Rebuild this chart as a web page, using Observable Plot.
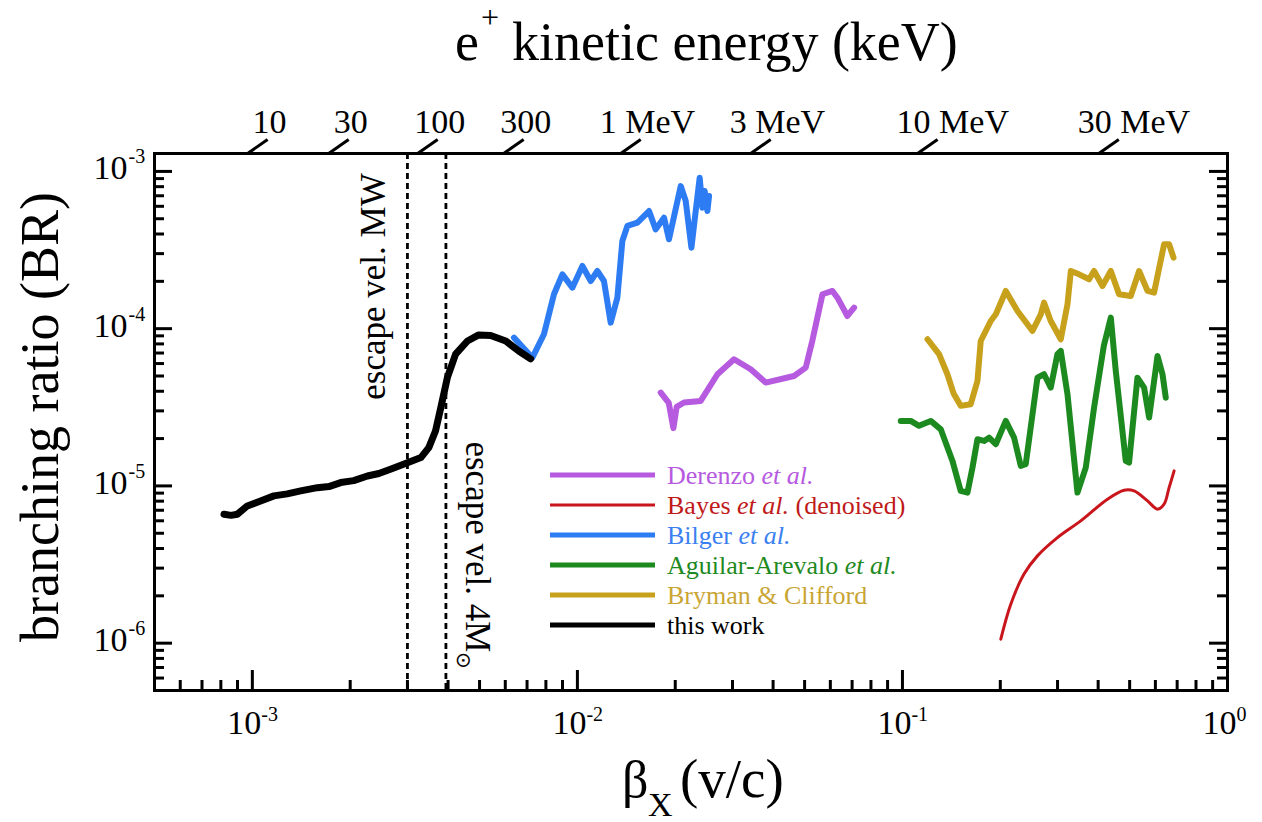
<!DOCTYPE html>
<html>
<head>
<meta charset="utf-8">
<script src="https://cdn.jsdelivr.net/npm/d3@7"></script>
<script src="https://cdn.jsdelivr.net/npm/@observablehq/plot@0.6"></script>
<style>
  html, body { margin: 0; padding: 0; background: #fff; }
  #chart { width: 1262px; height: 822px; overflow: hidden; }
</style>
</head>
<body>
<div id="chart"></div>
<script>
// ---------------- DATA ----------------
const thisWorkBeta = [8.18e-4, 8.6e-4, 8.99e-4, 9.65e-4, 1.06e-3, 1.165e-3, 1.28e-3, 1.408e-3, 1.585e-3, 1.72e-3, 1.87e-3, 2.05e-3, 2.26e-3, 2.45e-3, 2.66e-3, 3.0e-3, 3.30e-3, 3.49e-3, 3.66e-3, 3.80e-3, 3.98e-3, 4.22e-3, 4.59e-3, 4.97e-3, 5.41e-3, 6.02e-3, 6.60e-3, 7.18e-3];
const thisWorkBR   = [6.61e-6, 6.5e-6, 6.61e-6, 7.46e-6, 8.03e-6, 8.64e-6, 8.9e-6, 9.29e-6, 9.75e-6, 9.9e-6, 1.05e-5, 1.08e-5, 1.157e-5, 1.2e-5, 1.277e-5, 1.406e-5, 1.514e-5, 1.751e-5, 2.237e-5, 3.146e-5, 4.88e-5, 6.88e-5, 8.35e-5, 9.12e-5, 9.05e-5, 8.35e-5, 7.21e-5, 6.42e-5];

const bilgerBeta = [6.38e-3, 7.27e-3, 7.89e-3, 8.47e-3, 8.99e-3, 9.65e-3, 1.036e-2, 1.099e-2, 1.152e-2, 1.207e-2, 1.266e-2, 1.327e-2, 1.375e-2, 1.425e-2, 1.53e-2, 1.661e-2, 1.741e-2, 1.847e-2, 1.913e-2, 2.079e-2, 2.154e-2, 2.243e-2, 2.312e-2, 2.378e-2, 2.425e-2, 2.464e-2, 2.512e-2, 2.541e-2];
const bilgerBR   = [8.77e-5, 6.54e-5, 9.21e-5, 1.655e-4, 2.216e-4, 1.823e-4, 2.504e-4, 2.01e-4, 2.327e-4, 2.01e-4, 1.092e-4, 1.574e-4, 3.61e-4, 4.5e-4, 4.72e-4, 5.6e-4, 4.28e-4, 5.08e-4, 3.7e-4, 8.07e-4, 6.48e-4, 3.27e-4, 5.6e-4, 9.12e-4, 5.88e-4, 7.5e-4, 5.6e-4, 6.98e-4];

const derenzoBeta = [1.805e-2, 1.91e-2, 1.974e-2, 2.02e-2, 2.128e-2, 2.395e-2, 2.697e-2, 3.033e-2, 3.413e-2, 3.796e-2, 4.639e-2, 5.04e-2, 5.28e-2, 5.675e-2, 6.09e-2, 6.31e-2, 6.77e-2, 7.10e-2];
const derenzoBR   = [3.92e-5, 3.37e-5, 2.33e-5, 3.18e-5, 3.39e-5, 3.47e-5, 5.13e-5, 6.39e-5, 5.52e-5, 4.54e-5, 5.0e-5, 5.65e-5, 8.35e-5, 1.655e-4, 1.737e-4, 1.574e-4, 1.204e-4, 1.36e-4];

const brymanBeta = [0.1194, 0.1296, 0.1375, 0.1438, 0.1511, 0.1622, 0.1701, 0.1741, 0.1869, 0.1937, 0.2079, 0.2259, 0.2512, 0.2664, 0.2727, 0.2859, 0.3070, 0.3219, 0.3296, 0.3494, 0.3752, 0.3886, 0.4125, 0.4375, 0.4639, 0.5040, 0.5346, 0.5675, 0.5944, 0.6381, 0.6612, 0.6823];
const brymanBR   = [8.56e-5, 6.88e-5, 5.13e-5, 3.85e-5, 3.23e-5, 3.31e-5, 4.65e-5, 8.35e-5, 1.119e-4, 1.234e-4, 1.737e-4, 1.296e-4, 9.67e-5, 1.234e-4, 1.463e-4, 1.119e-4, 8.56e-5, 1.429e-4, 2.327e-4, 2.216e-4, 2.06e-4, 2.327e-4, 1.868e-4, 2.327e-4, 1.655e-4, 1.614e-4, 2.327e-4, 1.737e-4, 1.694e-4, 3.44e-4, 3.44e-4, 2.83e-4];

const aguilarBeta = [0.0988, 0.106, 0.1125, 0.1222, 0.1312, 0.1425, 0.1511, 0.1585, 0.1642, 0.1701, 0.1783, 0.1847, 0.1937, 0.2079, 0.2205, 0.2312, 0.2395, 0.2602, 0.2727, 0.2859, 0.2998, 0.3070, 0.3219, 0.3455, 0.3664, 0.3886, 0.4163, 0.4375, 0.4532, 0.4864, 0.4980, 0.5284, 0.5538, 0.5740, 0.6091, 0.631, 0.6458];
const aguilarBR   = [2.59e-5, 2.59e-5, 2.41e-5, 2.59e-5, 2.29e-5, 1.442e-5, 9.29e-6, 9.07e-6, 1.307e-5, 1.981e-5, 1.932e-5, 2.028e-5, 1.841e-5, 2.59e-5, 2.028e-5, 1.34e-5, 1.374e-5, 4.88e-5, 5.13e-5, 4.22e-5, 6.88e-5, 7.22e-5, 3.83e-5, 9.07e-6, 1.307e-5, 3.15e-5, 7.76e-5, 1.175e-4, 5.38e-5, 1.442e-5, 1.406e-5, 4.88e-5, 4.22e-5, 2.72e-5, 6.71e-5, 5.13e-5, 3.64e-5];

const bayesBeta = [0.2007, 0.2154, 0.2366, 0.2602, 0.2998, 0.3536, 0.4273, 0.4806, 0.5161, 0.5675, 0.6091, 0.6381, 0.6612, 0.6851];
const bayesBR   = [1.06e-6, 1.77e-6, 2.75e-6, 3.59e-6, 4.69e-6, 5.99e-6, 8.23e-6, 9.39e-6, 9.29e-6, 8.03e-6, 7.11e-6, 7.65e-6, 9.75e-6, 1.246e-5];

// top axis: e+ kinetic energy ticks (beta where each slanted tick meets the frame)
const energyTickBeta   = [9.67e-4, 1.717e-3, 3.225e-3, 5.93e-3, 1.359e-2, 3.413e-2, 0.1113, 0.4018];
const energyTickLabels = ["10", "30", "100", "300", "1 MeV", "3 MeV", "10 MeV", "30 MeV"];

// escape velocities (dashed lines)
const escapeBeta   = [3.0e-3, 3.94e-3];
const escapeLabels = ["escape vel. MW", "escape vel. 4M"];
const escapeLabelBR = [1.84e-4, 3.59e-6];

// axis ticks
const xMajorTicks = [1e-3, 1e-2, 1e-1, 1];
const xTickExponents = ["-3", "-2", "-1", "0"];
const yMajorTicks = [1e-6, 1e-5, 1e-4, 1e-3];
const yTickExponents = ["-6", "-5", "-4", "-3"];
const xMinorTicks = [5e-4, 6e-4, 7e-4, 8e-4, 9e-4,
  2e-3, 3e-3, 4e-3, 5e-3, 6e-3, 7e-3, 8e-3, 9e-3,
  2e-2, 3e-2, 4e-2, 5e-2, 6e-2, 7e-2, 8e-2, 9e-2,
  0.2, 0.3, 0.4, 0.5, 0.6, 0.7, 0.8, 0.9];
const yMinorTicks = [6e-7, 7e-7, 8e-7, 9e-7,
  2e-6, 3e-6, 4e-6, 5e-6, 6e-6, 7e-6, 8e-6, 9e-6,
  2e-5, 3e-5, 4e-5, 5e-5, 6e-5, 7e-5, 8e-5, 9e-5,
  2e-4, 3e-4, 4e-4, 5e-4, 6e-4, 7e-4, 8e-4, 9e-4];

// legend / series
const seriesKeys   = ["derenzo", "bayes", "bilger", "aguilar", "bryman", "thiswork"];
const seriesBeta   = {derenzo: derenzoBeta, bayes: bayesBeta, bilger: bilgerBeta, aguilar: aguilarBeta, bryman: brymanBeta, thiswork: thisWorkBeta};
const seriesBR     = {derenzo: derenzoBR, bayes: bayesBR, bilger: bilgerBR, aguilar: aguilarBR, bryman: brymanBR, thiswork: thisWorkBR};
const legendParts  = {
  derenzo: [["Derenzo ", false], ["et al.", true]],
  bayes: [["Bayes ", false], ["et al.", true], [" (denoised)", false]],
  bilger: [["Bilger ", false], ["et al.", true]],
  aguilar: [["Aguilar-Arevalo ", false], ["et al.", true]],
  bryman: [["Bryman & Clifford", false]],
  thiswork: [["this work", false]]
};

// ---------------- STYLE ----------------
const colors = {derenzo: "#b65ae0", bayes: "#c8161c", bilger: "#2d7cf3", aguilar: "#1d8a1f", bryman: "#c8a11c", thiswork: "#000000"};
const textColors = {derenzo: "#b65ae0", bayes: "#c01a1a", bilger: "#3a80f0", aguilar: "#1f8a22", bryman: "#c9a534", thiswork: "#000000"};
const widths = {derenzo: 6, bayes: 3, bilger: 6, aguilar: 6, bryman: 6, thiswork: 7};
const legendWidths = {derenzo: 5, bayes: 3, bilger: 5, aguilar: 5, bryman: 5, thiswork: 5};
const drawOrder = ["derenzo", "bayes", "bilger", "thiswork", "aguilar", "bryman"];
const serif = "Liberation Serif, 'Times New Roman', Times, serif";

const W = 1262, H = 822, ML = 154, MR = 35, MT = 153, MB = 132;
const PW = W - ML - MR, PH = H - MT - MB;
const xDomain = [5e-4, 1], yDomain = [5e-7, 1.3e-3];

const rows = seriesKeys.flatMap(k => seriesBeta[k].map((b, i) => ({series: k, beta: b, br: seriesBR[k][i]})));
const energyRows = energyTickBeta.map((b, i) => ({beta: b, label: energyTickLabels[i]}));
const kevRows = energyRows.filter(d => !d.label.includes("MeV"));
const mevRows = energyRows.filter(d => d.label.includes("MeV"));

const txt = {fontFamily: serif, fill: "black", lineAnchor: "bottom"};

const marks = [
  Plot.ruleX(escapeBeta, {x: d => d, stroke: "black", strokeWidth: 2.8, strokeDasharray: "6,4"}),
  ...drawOrder.map(k => Plot.line(rows.filter(d => d.series === k), {
    x: "beta", y: "br", stroke: colors[k], strokeWidth: widths[k],
    strokeLinejoin: "round", strokeLinecap: "round",
    curve: k === "bayes" ? "catmull-rom" : "linear"
  })),
  Plot.frame({stroke: "black", strokeWidth: 3}),
  // left & right axis ticks (inward)
  Plot.tickY(yMajorTicks, {y: d => d, stroke: "black", strokeWidth: 3, insetRight: PW - 18}),
  Plot.tickY(yMinorTicks, {y: d => d, stroke: "black", strokeWidth: 3, insetRight: PW - 10}),
  Plot.tickY(yMajorTicks, {y: d => d, stroke: "black", strokeWidth: 3, insetLeft: PW - 18}),
  Plot.tickY(yMinorTicks, {y: d => d, stroke: "black", strokeWidth: 3, insetLeft: PW - 10}),
  // bottom ticks (inward)
  Plot.tickX(xMajorTicks, {x: d => d, stroke: "black", strokeWidth: 3, insetTop: PH - 20}),
  Plot.tickX(xMinorTicks, {x: d => d, stroke: "black", strokeWidth: 3, insetTop: PH - 10}),
  // top slanted energy ticks
  Plot.link(energyTickBeta, {
    x1: d => d, y1: yDomain[1],
    x2: d => d * Math.pow(10, 20 / 325), y2: yDomain[1] * Math.pow(10, 14 / 157.2),
    stroke: "black", strokeWidth: 3
  }),
  // energy labels
  Plot.text(kevRows, {x: "beta", y: yDomain[1], text: "label", dx: 22, dy: -21, fontSize: 34, textAnchor: "middle", ...txt}),
  Plot.text(mevRows, {x: "beta", y: yDomain[1], text: "label", dx: -21, dy: -21, fontSize: 34, textAnchor: "start", ...txt}),
  // bottom tick labels
  Plot.text(xMajorTicks, {x: d => d, y: yDomain[0], text: () => "10", dx: -8, dy: 43, fontSize: 34, textAnchor: "middle", ...txt}),
  Plot.text(xMajorTicks, {x: d => d, y: yDomain[0], text: (d, i) => xTickExponents[i], dx: 9, dy: 30, fontSize: 20, textAnchor: "start", ...txt}),
  // left tick labels
  Plot.text(yMajorTicks, {x: xDomain[0], y: d => d, text: () => "10", dx: -27, dy: 8, fontSize: 34, textAnchor: "end", ...txt}),
  Plot.text(yMajorTicks, {x: xDomain[0], y: d => d, text: (d, i) => yTickExponents[i], dx: -26, dy: -8, fontSize: 20, textAnchor: "start", ...txt})
];

const chart = Plot.plot({
  width: W, height: H,
  marginLeft: ML, marginRight: MR, marginTop: MT, marginBottom: MB,
  style: {fontFamily: serif, background: "white", overflow: "visible"},
  x: {type: "log", domain: xDomain, axis: null},
  y: {type: "log", domain: yDomain, axis: null},
  marks
});
document.getElementById("chart").appendChild(chart);

// ---------------- rich-text annotations ----------------
const svg = d3.select(chart);
const xs = chart.scale("x"), ys = chart.scale("y");

// top title
const title = svg.append("text").attr("font-family", serif).attr("font-size", 54)
  .attr("fill", "black").attr("text-anchor", "start");
title.append("tspan").attr("x", 455).attr("y", 60).text("e");
title.append("tspan").attr("x", 481).attr("y", 28).attr("font-size", 32).text("+");
title.append("tspan").attr("x", 512).attr("y", 60).text("kinetic energy (keV)");

// y label
svg.append("text").attr("font-family", serif).attr("font-size", 54).attr("fill", "black")
  .attr("text-anchor", "middle").attr("transform", "translate(58,417) rotate(-90)")
  .text("branching ratio (BR)");

// x label
const xl = svg.append("text").attr("font-family", serif).attr("font-size", 52)
  .attr("fill", "black").attr("text-anchor", "start");
xl.append("tspan").attr("x", 622).attr("y", 797).text("β");
xl.append("tspan").attr("x", 648).attr("y", 816).attr("font-size", 34).text("X");
xl.append("tspan").attr("x", 680).attr("y", 797).attr("font-size", 55).text("(v/c)");

// escape velocity labels
svg.append("text").attr("font-family", serif).attr("font-size", 35).attr("fill", "black")
  .attr("text-anchor", "middle")
  .attr("transform", `translate(${xs.apply(escapeBeta[0]) - 22},${ys.apply(escapeLabelBR[0])}) rotate(-90)`)
  .text(escapeLabels[0]);
const e2 = svg.append("text").attr("font-family", serif).attr("font-size", 35).attr("fill", "black")
  .attr("text-anchor", "middle")
  .attr("transform", `translate(${xs.apply(escapeBeta[1]) + 21},${ys.apply(escapeLabelBR[1])}) rotate(90)`);
e2.append("tspan").text(escapeLabels[1]);
e2.append("tspan").attr("font-size", 20).attr("dy", 9).text("⊙");

// legend
const lg = svg.append("g");
seriesKeys.forEach((k, i) => {
  const y = 475 + 30 * i;
  lg.append("line").attr("x1", 550).attr("x2", 655).attr("y1", y).attr("y2", y)
    .attr("stroke", colors[k]).attr("stroke-width", legendWidths[k]);
  const t = lg.append("text").attr("x", 667).attr("y", y + 9).attr("text-anchor", "start")
    .attr("font-family", serif).attr("font-size", 26).attr("fill", textColors[k]);
  legendParts[k].forEach(([s, it]) => {
    const sp = t.append("tspan").text(s);
    if (it) sp.attr("font-style", "italic");
  });
});
</script>
</body>
</html>
